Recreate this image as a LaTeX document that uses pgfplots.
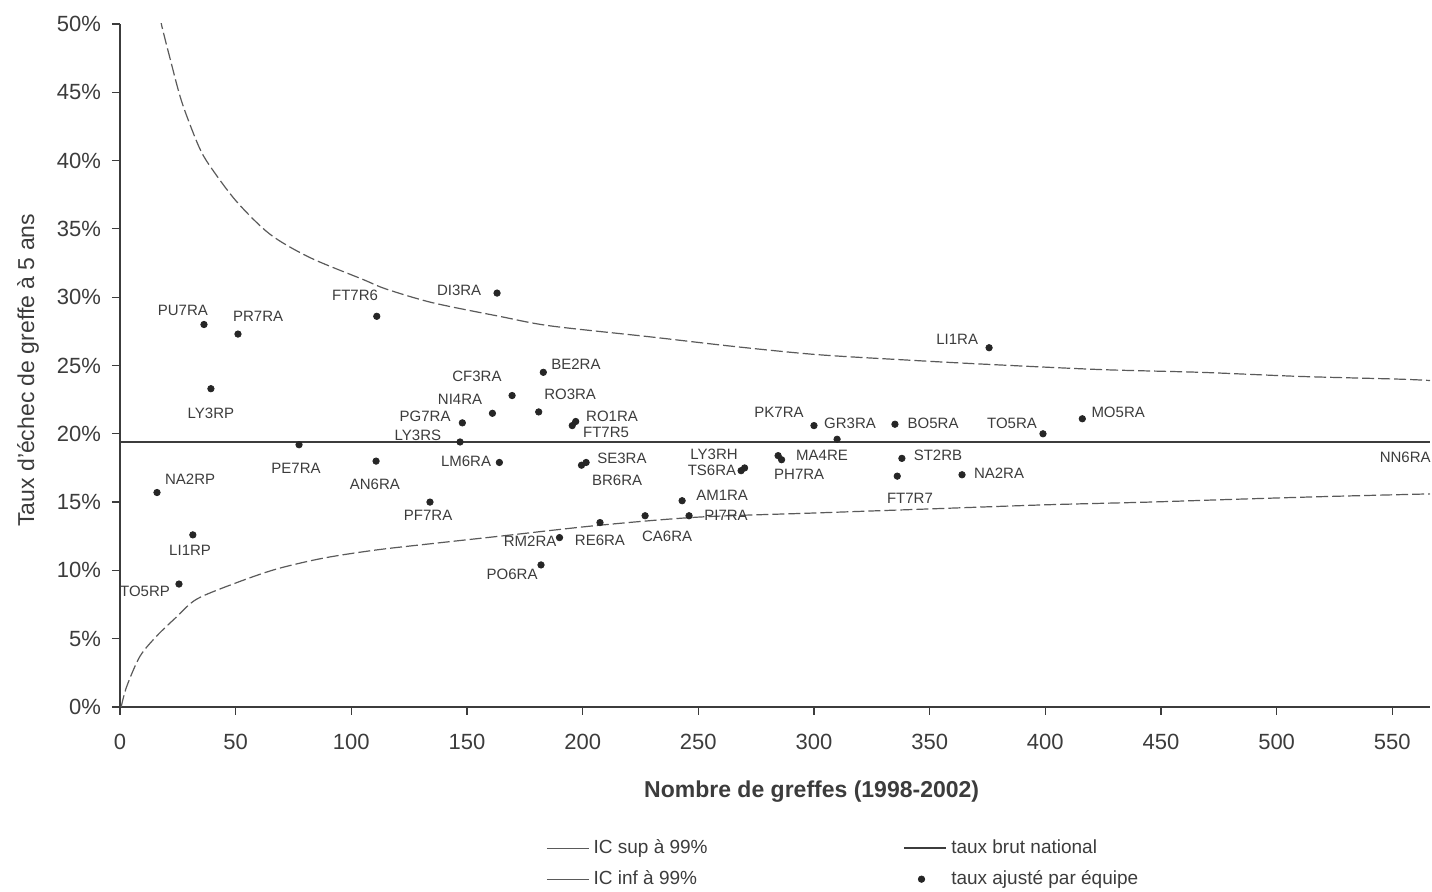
\documentclass[border=0pt]{standalone}
\usepackage{fontspec}
\setmainfont{Liberation Sans}
\usepackage{pgfplots}
\usepackage{pgfplotstable}
\pgfplotsset{compat=1.18}

\definecolor{ink}{HTML}{3C3C3C}
\definecolor{cicol}{HTML}{5A5A5A}

% taux ajusté par équipe (nombre de greffes, %)
\pgfplotstableread{
n pct
163 30.3
111 28.6
36.3 28.0
51 27.3
39.3 23.3
375.7 26.3
183 24.5
169.5 22.8
161 21.5
181 21.6
148 20.8
197 20.9
195.5 20.6
147 19.4
77.4 19.2
164 17.9
110.7 18.0
201.5 17.9
199.5 17.7
270 17.5
268.5 17.3
300 20.6
310 19.6
284.5 18.4
286 18.1
335 20.7
399 20.0
416 21.1
338 18.2
336 16.9
364 17.0
243 15.1
246 14.0
227 14.0
207.5 13.5
190 12.4
182 10.4
134 15.0
16 15.7
31.5 12.6
25.5 9.0
}\equipes

% étiquettes des équipes
\pgfplotstableread{
n pct nom
146.6 30.5 DI3RA
101.6 30.1 FT7R6
27.2 29.0 PU7RA
59.7 28.6 PR7RA
39.3 21.5 LY3RP
361.9 26.9 LI1RA
197.1 25.1 BE2RA
154.3 24.2 CF3RA
147 22.5 NI4RA
194.6 22.9 RO3RA
131.9 21.3 PG7RA
212.7 21.3 RO1RA
210.1 20.1 FT7R5
128.8 19.9 LY3RS
76.1 17.5 PE7RA
149.6 18.0 LM6RA
110.2 16.3 AN6RA
217 18.2 SE3RA
214.9 16.6 BR6RA
256.8 18.5 LY3RH
255.9 17.3 TS6RA
284.9 21.6 PK7RA
315.6 20.8 GR3RA
303.5 18.4 MA4RE
293.6 17.0 PH7RA
351.5 20.8 BO5RA
385.6 20.8 TO5RA
431.5 21.6 MO5RA
353.6 18.4 ST2RB
341.5 15.3 FT7R7
380 17.1 NA2RA
260.3 15.5 AM1RA
262 14.0 PI7RA
236.5 12.5 CA6RA
207.5 12.2 RE6RA
177.3 12.1 RM2RA
169.5 9.7 PO6RA
133.2 14.0 PF7RA
30.3 16.7 NA2RP
30.3 11.5 LI1RP
10.8 8.5 TO5RP
555.6 18.3 NN6RA
}\etiquettes

\pgfplotstableread{
n pct
17.5 50.5
18 49.9
21.6 47.5
26.7 44.3
33.9 41.1
38.9 39.6
50.4 37.0
64.9 34.6
82.1 32.9
105 31.3
115 30.6
135 29.6
164 28.6
186 27.9
229 27.1
265 26.4
301 25.8
340 25.4
373 25.1
424 24.7
467 24.5
510 24.2
553 24.0
566.3 23.9
}\icsup

\pgfplotstableread{
n pct
0.5 0
2.9 1.5
8.6 3.7
15.9 5.2
24.5 6.6
33.2 7.9
50.4 9.1
67.7 10.1
88 10.9
111 11.5
137 12.0
164 12.5
207 13.3
250 13.9
300 14.2
350 14.5
400 14.8
445 15.0
481 15.2
520 15.4
566.3 15.6
}\icinf

\pgfplotsset{
    legline/.style={legend image code/.code={\draw[##1] (0pt,0pt) -- (21pt,0pt);}},
}

\begin{document}
\begin{tikzpicture}
\begin{axis}[
    width=655pt, height=341.5pt, scale only axis,
    xmin=0, xmax=566.3, ymin=0, ymax=50,
    axis x line*=bottom, axis y line*=left,
    axis line style={ink, line width=0.6pt, -},
    xtick={0,50,...,550}, ytick={0,5,...,50},
    yticklabel={\pgfmathprintnumber{\tick}\%},
    /pgf/number format/assume math mode=true,
    tick align=outside, major tick length=4pt,
    tick style={ink, line width=0.6pt},
    ticklabel style={font=\fontsize{11}{13}\selectfont, text=ink},
    xticklabel style={yshift=-6pt},
    yticklabel style={xshift=-2pt},
    xlabel={Nombre de greffes (1998-2002)},
    ylabel={Taux d'échec de greffe à 5 ans},
    xlabel style={at={(axis description cs:0.528,-0.1245)}, anchor=center,
        font=\fontsize{11.5}{13}\selectfont\bfseries, text=ink},
    ylabel style={at={(axis description cs:-0.0702,0.493)}, anchor=center,
        font=\fontsize{11.5}{13}\selectfont, text=ink},
    legend columns=2,
    legend cell align=left,
    legend style={at={(axis description cs:0.3206,-0.182)}, anchor=north west,
        draw=none, fill=none, font=\fontsize{9.5}{11}\selectfont, text=ink,
        row sep=3pt,
        /tikz/every even column/.append style={column sep=96pt}},
]
\addplot[cicol, line width=0.6pt, dash pattern=on 6pt off 2pt, smooth, legline,
    legend image post style={solid}]
    table[x=n, y=pct] {\icsup};
\addlegendentry{IC sup à 99\%}

\addplot[ink, line width=0.8pt, legline]
    coordinates {(0,19.4) (566.3,19.4)};
\addlegendentry{taux brut national}

\addplot[cicol, line width=0.6pt, dash pattern=on 6pt off 2pt, smooth, legline,
    legend image post style={solid}]
    table[x=n, y=pct] {\icinf};
\addlegendentry{IC inf à 99\%}

\addplot[only marks, mark=*, mark size=1.6pt, black!85]
    table[x=n, y=pct] {\equipes};
\addlegendentry{taux ajusté par équipe}

% étiquettes
\addplot[forget plot, only marks, mark=none,
    nodes near coords, point meta=explicit symbolic,
    every node near coord/.append style={anchor=center, inner sep=0pt,
        font=\fontsize{7.5}{8}\selectfont, text=ink}]
    table[x=n, y=pct, meta=nom] {\etiquettes};
\end{axis}
\pgfresetboundingbox
\path (-60pt,-92.5pt) rectangle (656pt,353.5pt);
\end{tikzpicture}
\end{document}
